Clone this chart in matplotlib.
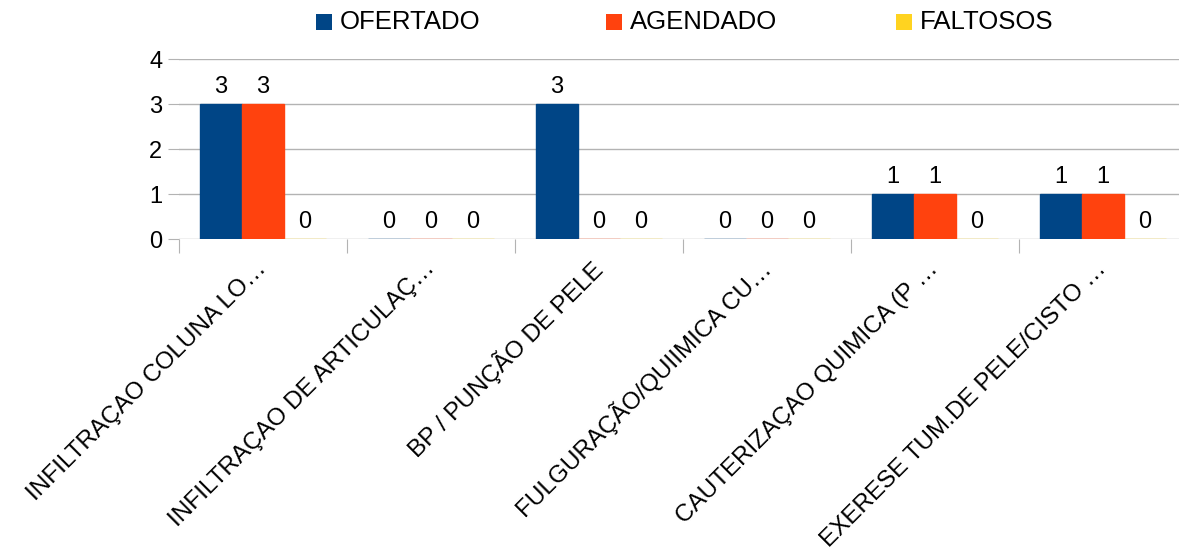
import matplotlib
matplotlib.use('Agg')
import matplotlib.pyplot as plt
import numpy as np
from matplotlib.patches import Rectangle

plt.rcParams['font.family'] = ['Liberation Sans', 'DejaVu Sans']

# dados
categorias = ['INFILTRAÇAO COLUNA LO…', 'INFILTRAÇAO DE ARTICULAÇ…', 'BP / PUNÇÃO DE PELE',
              'FULGURAÇÃO/QUIIMICA CU…', 'CAUTERIZAÇAO QUIMICA (P …', 'EXERESE TUM.DE PELE/CISTO …']
ofertado = [3, 0, 3, 0, 1, 1]
agendado = [3, 0, 0, 0, 1, 1]
faltosos = [0, 0, 0, 0, 0, 0]
series = ['OFERTADO', 'AGENDADO', 'FALTOSOS']
cores = ['#004586', '#ff420e', '#ffd320']

W, H = 1179, 557
fig = plt.figure(figsize=(W / 100, H / 100), dpi=100)
ax = fig.add_axes([179 / W, 1 - 239 / H, 1008 / W, 180 / H])

x = np.arange(len(categorias))
largura = 0.25
for i, (vals, cor) in enumerate(zip([ofertado, agendado, faltosos], cores)):
    pos = x + (i - 1) * largura
    ax.bar(pos, vals, largura, color=cor, edgecolor=cor, linewidth=1.0, zorder=3)
    for px, v in zip(pos, vals):
        ax.annotate(str(v), (px, v), xytext=(0, 4), textcoords='offset points',
                    ha='center', va='bottom', fontsize=17)

ax.set_xlim(-0.5, len(categorias) - 0.5)
ax.set_ylim(0, 4)
ax.set_yticks([0, 1, 2, 3, 4])
ax.grid(axis='y', color='#b3b3b3', linewidth=1)
ax.set_axisbelow(True)
for s in ax.spines.values():
    s.set_visible(False)
ax.tick_params(axis='y', length=8, color='#b3b3b3', labelsize=17, pad=4)

# ticks do eixo x nas divisas entre categorias
ax.set_xticks(np.arange(-0.5, len(categorias)))
ax.set_xticklabels([])
ax.tick_params(axis='x', length=10, color='#b3b3b3')
ax.set_xticks(x, minor=True)
ax.set_xticklabels(categorias, minor=True, rotation=45, ha='right', va='center',
                   rotation_mode='anchor', fontsize=17.5)
ax.tick_params(axis='x', which='minor', length=0, pad=19)

# legenda com colunas de largura igual
for i, (nome, cor) in enumerate(zip(series, cores)):
    x0 = 316 + i * 290
    fig.patches.append(Rectangle((x0 / W, 1 - 30 / H), 16 / W, 16 / H,
                                 transform=fig.transFigure, facecolor=cor, edgecolor='none'))
    fig.text((x0 + 24) / W, 1 - 22 / H, nome, fontsize=18.5, va='center', ha='left')

fig.savefig('out.png', dpi=100)
